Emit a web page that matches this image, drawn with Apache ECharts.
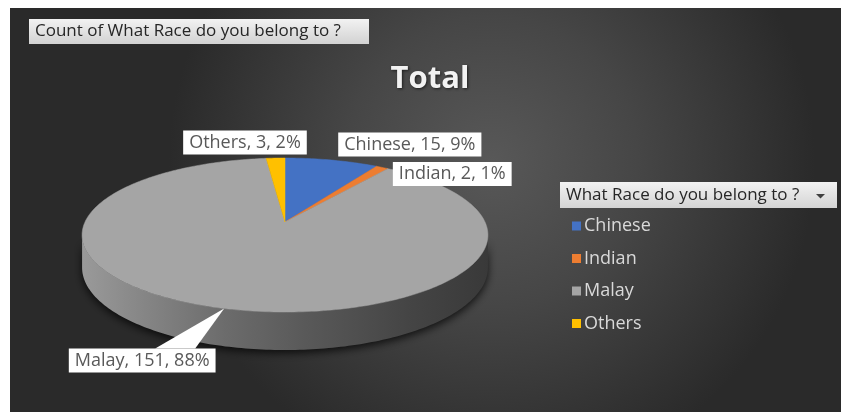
<!DOCTYPE html>
<html>
<head>
<meta charset="utf-8">
<script src="https://cdn.jsdelivr.net/npm/echarts@6/dist/echarts.min.js"></script>
<style>html,body{margin:0;padding:0;background:#fff}#c{width:841px;height:412px}</style>
</head>
<body>
<div id="c"></div>
<script>
// ---- data ----
const categories = ['Chinese', 'Indian', 'Malay', 'Others'];
const counts = [15, 2, 151, 3];
const chartTitle = 'Total';
const fieldButton = 'Count of What Race do you belong to ?';
const legendHeader = 'What Race do you belong to ?';

// ---- style / layout ----
const sliceColors = ['#4472C4', '#ED7D31', '#A5A5A5', '#FFC000'];
const FONT = '"Open Sans", "Noto Sans", sans-serif';
const CX = 285, CY = 222, K = 200, A = 74.8, P = 0.169, H = 31.6;
const labelLayout = {
  Chinese: { dx: 78, dy: -15.6, callout: false },
  Indian:  { dx: 70, dy: 6.6, callout: false },
  Malay:   { dx: -82, dy: 52, callout: true },
  Others:  { dx: -30.6, dy: -15.6, callout: false }
};

const total = counts.reduce((a, b) => a + b, 0);
function startDeg(i) {
  let s = 0;
  for (let k = 0; k < i; k++) s += counts[k];
  return s / total * 360;
}
function proj(deg, drop) {
  const t = deg * Math.PI / 180;
  const X = Math.sin(t), Y = Math.cos(t);
  const den = 1 + P * Y;
  return [CX + K * X / den, CY - A * Y / den + H * drop / den];
}
function arc(a0, a1, drop) {
  const n = Math.max(1, Math.ceil(Math.abs(a1 - a0)));
  const pts = [];
  for (let k = 0; k <= n; k++) pts.push(proj(a0 + (a1 - a0) * k / n, drop));
  return pts;
}
const thetaM = Math.acos(-P) * 180 / Math.PI;

function topRenderer(i) {
  return function (params, api) {
    const v = api.value(0);
    const a0 = startDeg(i), a1 = a0 + v / total * 360;
    const color = api.visual('color');
    const pts = [[CX, CY]].concat(arc(a0, a1, 0));
    return {
      type: 'polygon',
      shape: { points: pts },
      style: { fill: color, stroke: color, lineWidth: 0.5 }
    };
  };
}

function labelRenderer(params, api) {
  const i = params.dataIndex;
  const v = api.value(0);
  const a0 = startDeg(i), a1 = a0 + v / total * 360;
  const name = categories[i];
  const lay = labelLayout[name];
  const anchor = proj((a0 + a1) / 2, 0);
  const bx = anchor[0] + lay.dx, by = anchor[1] + lay.dy;
  const children = [];
  if (lay.callout) {
    children.push({
      type: 'polygon',
      shape: { points: [anchor, [bx + 13, by - 12], [bx + 53, by - 12]] },
      style: { fill: '#ffffff' }
    });
  }
  const pct = Math.round(v / total * 100);
  children.push({
    type: 'text',
    x: bx, y: by,
    style: {
      text: name + ', ' + v + ', ' + pct + '%',
      fill: '#595959',
      fontSize: 18,
      fontFamily: FONT,
      align: 'center',
      verticalAlign: 'middle',
      backgroundColor: '#ffffff',
      padding: [3, 6, 3, 6]
    }
  });
  return { type: 'group', children: children };
}

function sideRenderer(params, api) {
  const i = params.dataIndex;
  const v = api.value(0);
  const a0 = startDeg(i), a1 = a0 + v / total * 360;
  const lo = Math.max(a0, thetaM), hi = Math.min(a1, 360 - thetaM);
  if (lo >= hi) return null;
  const pts = arc(lo, hi, 0).concat(arc(hi, lo, 1));
  const grad = new echarts.graphic.LinearGradient(CX - K - 4, 0, CX + K + 4, 0, [
    { offset: 0, color: '#9a9a9a' },
    { offset: 0.15, color: '#868686' },
    { offset: 0.35, color: '#6c6c6c' },
    { offset: 0.55, color: '#595959' },
    { offset: 0.8, color: '#454545' },
    { offset: 1, color: '#393939' }
  ], true);
  return {
    type: 'polygon',
    shape: { points: pts },
    style: {
      fill: grad,
      shadowBlur: 8,
      shadowColor: 'rgba(0,0,0,0.75)',
      shadowOffsetY: 3
    }
  };
}

const dataItems = counts.map((c, i) => ({ name: categories[i], value: [c] }));
const series = [{
  type: 'custom',
  name: '__side',
  coordinateSystem: 'none',
  z: 1,
  silent: true,
  data: dataItems,
  renderItem: sideRenderer
}].concat(categories.map((name, i) => ({
  type: 'custom',
  name: name,
  coordinateSystem: 'none',
  z: 3,
  itemStyle: { color: sliceColors[i] },
  data: [{ name: name, value: [counts[i]] }],
  renderItem: topRenderer(i)
}))).concat([{
  type: 'custom',
  name: '__labels',
  coordinateSystem: 'none',
  z: 6,
  silent: true,
  data: dataItems,
  renderItem: labelRenderer
}]);

const chart = echarts.init(document.getElementById('c'), null, { renderer: 'canvas' });
chart.setOption({
  backgroundColor: '#ffffff',
  animation: false,
  legend: {
    data: categories,
    orient: 'vertical',
    left: 567,
    top: 212,
    icon: 'rect',
    itemWidth: 9,
    itemHeight: 9,
    itemGap: 14.5,
    textStyle: { color: '#d9d9d9', fontSize: 18, fontFamily: FONT, padding: [0, 0, 0, -2] }
  },
  graphic: [
    {
      type: 'rect', z: -10, silent: true,
      shape: { x: 10, y: 8, width: 831, height: 404 },
      style: {
        fill: new echarts.graphic.RadialGradient(0.58, 0.38, 0.8, [
          { offset: 0, color: '#585858' },
          { offset: 0.45, color: '#464646' },
          { offset: 1, color: '#2a2a2a' }
        ])
      }
    },
    {
      type: 'rect', z: 10,
      shape: { x: 29, y: 19, width: 340, height: 25 },
      style: {
        fill: new echarts.graphic.LinearGradient(0, 0, 0, 1, [
          { offset: 0, color: '#f2f2f2' }, { offset: 1, color: '#d2d2d2' }
        ])
      }
    },
    {
      type: 'text', z: 11, x: 35, y: 31.5,
      style: { text: fieldButton, fill: '#262626', fontSize: 17, fontFamily: FONT, verticalAlign: 'middle' }
    },
    {
      type: 'text', z: 11, x: 430, y: 79,
      style: {
        text: chartTitle, fill: '#f2f2f2', fontSize: 31, fontWeight: 'bold', fontFamily: FONT,
        align: 'center', verticalAlign: 'middle',
        textShadowColor: 'rgba(0,0,0,0.6)', textShadowBlur: 3, textShadowOffsetX: 1, textShadowOffsetY: 1
      }
    },
    {
      type: 'rect', z: 10,
      shape: { x: 560, y: 182, width: 277, height: 26 },
      style: {
        fill: new echarts.graphic.LinearGradient(0, 0, 0, 1, [
          { offset: 0, color: '#f2f2f2' }, { offset: 1, color: '#d4d4d4' }
        ])
      }
    },
    {
      type: 'text', z: 11, x: 566, y: 195,
      style: { text: legendHeader, fill: '#262626', fontSize: 17, fontFamily: FONT, verticalAlign: 'middle' }
    },
    {
      type: 'polygon', z: 11,
      shape: { points: [[816, 194], [825, 194], [820.5, 198.5]] },
      style: { fill: '#404040' }
    }
  ],
  series: series
});
</script>
</body>
</html>
